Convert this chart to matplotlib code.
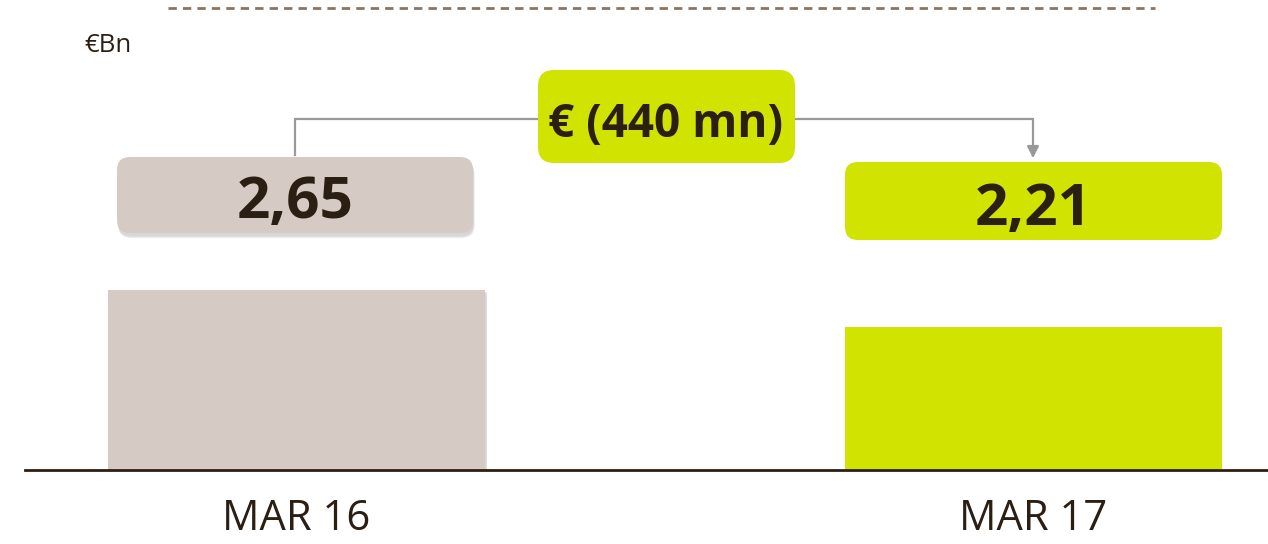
import matplotlib
matplotlib.use("Agg")
import matplotlib.pyplot as plt
from matplotlib.patches import FancyBboxPatch
import matplotlib.patheffects as pe

# ---- data ----
categories = ["MAR 16", "MAR 17"]
values = [2.65, 2.21]
value_labels = ["2,65", "2,21"]
delta_label = "€ (440 mn)"
unit_label = "€Bn"
bar_colors = ["#d5cac4", "#d1e300"]

TEXT = "#2b1f14"
plt.rcParams['font.family'] = ['Open Sans', 'DejaVu Sans']

W, H = 1268, 544
fig = plt.figure(figsize=(W / 100, H / 100), dpi=100)
fig.patch.set_facecolor("white")


def soft_shadow(dx, dy):
    effs = []
    for i, a in enumerate([0.06, 0.07, 0.08, 0.09]):
        effs.append(pe.SimplePatchShadow(offset=(dx * (1 + i * 0.3), dy * (1 + i * 0.3)),
                                         shadow_rgbFace="#6b6b6b", alpha=a))
    effs.append(pe.Normal())
    return effs


# main axes (bars)
ax_left_px, ax_bottom_px = 25, 74
ax = fig.add_axes([ax_left_px / W, ax_bottom_px / H, 1 - ax_left_px / W, 1 - ax_bottom_px / H])
xpos = [0, 1]
ax.set_xlim(-0.3684, 1.3182)
ax.set_ylim(0.51, 6.10)
bars = ax.bar(xpos, values, width=0.512, color=bar_colors, bottom=0, zorder=2)
bars[0].set_path_effects(soft_shadow(0.8, -1.2))
for s in ["top", "right", "left"]:
    ax.spines[s].set_visible(False)
ax.spines["bottom"].set_color(TEXT)
ax.spines["bottom"].set_linewidth(2)
ax.spines["bottom"].set_zorder(3)
ax.set_yticks([])
ax.set_xticks(xpos, categories)
ax.tick_params(axis="x", length=0, pad=20, labelsize=30, labelcolor=TEXT)
ax.set_facecolor("none")

# overlay axes in pixel coordinates for annotations
ov = fig.add_axes([0, 0, 1, 1], zorder=5)
ov.set_xlim(0, W)
ov.set_ylim(H, 0)
ov.axis("off")
ov.set_facecolor("none")

# dashed rule at top
ov.plot([168, 1155], [8, 8], color="#8b7462", lw=2, ls=(0, (3, 2.2)))

# unit label
ov.text(84, 52, unit_label, fontsize=18.5, color=TEXT, va="baseline", ha="left")

# label boxes
boxes = [
    dict(x=117, y=157, w=356, h=76, cx=295, base=218, shadow=True),
    dict(x=845, y=162, w=377, h=78, cx=1033, base=225, shadow=False),
]
for b, lab, col in zip(boxes, value_labels, bar_colors):
    p = FancyBboxPatch((b["x"], b["y"]), b["w"], b["h"],
                       boxstyle="round,pad=0,rounding_size=13",
                       fc=col, ec="none", zorder=3)
    if b["shadow"]:
        p.set_path_effects(soft_shadow(0.6, -2.0))
    ov.add_patch(p)
    ov.text(b["cx"], b["base"], lab, fontsize=42, fontweight="bold", color=TEXT,
            ha="center", va="baseline", zorder=4)

# delta box
mid = FancyBboxPatch((538, 70), 257, 93, boxstyle="round,pad=0,rounding_size=16",
                     fc=bar_colors[1], ec="none", zorder=3)
ov.add_patch(mid)
ov.text(666, 137, delta_label, fontsize=33, fontweight="bold", color=TEXT,
        ha="center", va="baseline", zorder=4)

# connector lines
LC = "#999999"
ov.plot([295, 295, 538], [155, 119, 119], color=LC, lw=1.6, zorder=2, solid_joinstyle="miter")
ov.plot([795, 1033, 1033], [119, 119, 148], color=LC, lw=1.6, zorder=2, solid_joinstyle="miter")
ov.annotate("", xy=(1033, 161), xytext=(1033, 146),
            arrowprops=dict(arrowstyle="-|>,head_length=0.7,head_width=0.35", color=LC, lw=1.6),
            zorder=2)

fig.savefig("out.png", dpi=100, facecolor="white")
